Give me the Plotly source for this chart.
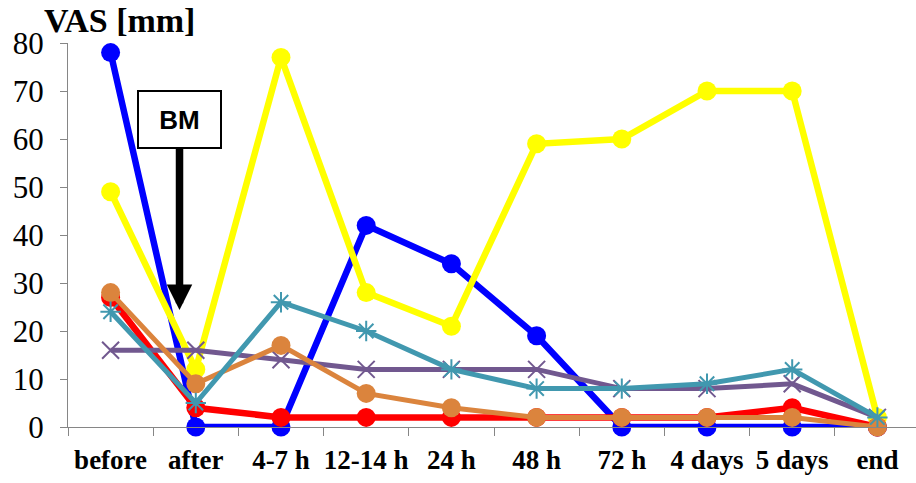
import plotly.graph_objects as go

# Time points of the VAS assessment
categories = ["before", "after", "4-7 h", "12-14 h", "24 h", "48 h",
              "72 h", "4 days", "5 days", "end"]

# VAS scores [mm] per patient
blue_vals = [78, 0, 0, 42, 34, 19, 0, 0, 0, 0]
yellow_vals = [49, 12, 77, 28, 21, 59, 60, 70, 70, 2]
red_vals = [27, 4, 2, 2, 2, 2, 2, 2, 4, 0]
purple_vals = [16, 16, 14, 12, 12, 12, 8, 8, 9, 2]
orange_vals = [28, 9, 17, 7, 4, 2, 2, 2, 2, 0]
teal_vals = [24, 5, 26, 20, 12, 8, 8, 9, 12, 2]

y_ticks = [0, 10, 20, 30, 40, 50, 60, 70, 80]

SERIF = "Liberation Serif, Times New Roman, serif"

fig = go.Figure()


def add_series(vals, color, symbol, size, width, mline=0):
    marker = dict(symbol=symbol, size=size, color=color)
    if mline:
        marker["line"] = dict(color=color, width=mline)
    fig.add_trace(go.Scatter(
        x=categories, y=vals, mode="lines+markers",
        line=dict(color=color, width=width),
        marker=marker, cliponaxis=False, showlegend=False,
    ))


add_series(blue_vals, "#0000FF", "circle", 19, 6.5)
add_series(yellow_vals, "#FFFF00", "circle", 19, 6.5)
add_series(red_vals, "#FF0000", "circle", 19, 6.5)
add_series(purple_vals, "#71588F", "x-thin-open", 17, 5, 2)
add_series(orange_vals, "#DB843D", "circle", 19, 5)
add_series(teal_vals, "#4198AF", "asterisk-open", 17, 5, 2)

axis_grey = "#868686"

fig.update_xaxes(
    type="category", range=[-0.5, 9.453],
    showline=True, linecolor=axis_grey, linewidth=1,
    ticks="outside", ticklen=8, tickcolor=axis_grey, tickson="boundaries",
    showgrid=False, zeroline=False, tickangle=0, ticklabelstandoff=9,
    tickfont=dict(family=SERIF, size=27, color="black", weight="bold"),
)
fig.update_yaxes(
    range=[0, 80], tickvals=y_ticks,
    showline=True, linecolor=axis_grey, linewidth=1,
    ticks="outside", ticklen=7, tickcolor=axis_grey,
    showgrid=False, zeroline=False, ticklabelstandoff=10,
    tickfont=dict(family=SERIF, size=31, color="black"),
)

# Axis title
fig.add_annotation(
    text="<b>VAS [mm]</b>", xref="paper", yref="paper",
    x=-0.031, y=1.0, xanchor="left", yanchor="bottom", yshift=2,
    showarrow=False,
    font=dict(family=SERIF, size=34, color="black"),
)

# BM box with arrow pointing down to the "after" measurement
fig.add_annotation(
    text="<b>BM</b>", xref="paper", yref="y",
    x=0.1315, y=24.4, ax=0, ay=-190,
    showarrow=True, arrowhead=2, arrowsize=0.68, arrowwidth=7.5,
    arrowcolor="black", standoff=0,
    bgcolor="white", bordercolor="black", borderwidth=2, borderpad=1,
    width=79, height=53,
    font=dict(family="Liberation Sans", size=26, color="black"),
)

fig.update_layout(
    width=916, height=483,
    margin=dict(l=68, r=0, t=43, b=56),
    plot_bgcolor="white", paper_bgcolor="white",
)

fig.write_html("out.html")
